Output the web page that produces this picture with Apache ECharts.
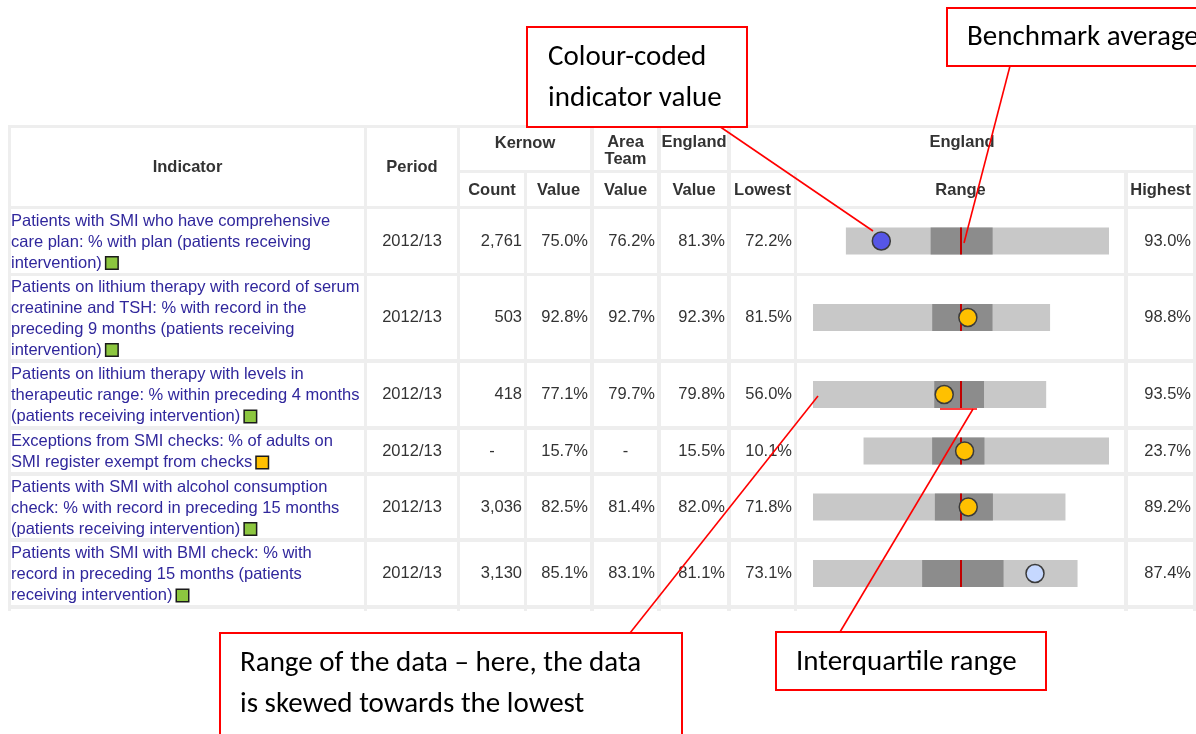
<!DOCTYPE html>
<html><head><meta charset="utf-8">
<script src="https://cdn.jsdelivr.net/npm/echarts@6/dist/echarts.min.js"></script>
<style>html,body{margin:0;padding:0;background:#fff}#c{width:1196px;height:734px}</style>
</head><body><div id="c"></div>
<script>
// ---------------- DATA ----------------
const indicators = [
  ['Patients with SMI who have comprehensive', 'care plan: % with plan (patients receiving', 'intervention)'],
  ['Patients on lithium therapy with record of serum', 'creatinine and TSH: % with record in the', 'preceding 9 months (patients receiving', 'intervention)'],
  ['Patients on lithium therapy with levels in', 'therapeutic range: % within preceding 4 months', '(patients receiving intervention)'],
  ['Exceptions from SMI checks: % of adults on', 'SMI register exempt from checks'],
  ['Patients with SMI with alcohol consumption', 'check: % with record in preceding 15 months', '(patients receiving intervention)'],
  ['Patients with SMI with BMI check: % with', 'record in preceding 15 months (patients', 'receiving intervention)']
];
const polarity = ['green', 'green', 'green', 'amber', 'green', 'green'];
const periods = ['2012/13', '2012/13', '2012/13', '2012/13', '2012/13', '2012/13'];
const kernowCount = [2761, 503, 418, null, 3036, 3130];
const kernowValue = [75.0, 92.8, 77.1, 15.7, 82.5, 85.1];
const areaTeamValue = [76.2, 92.7, 79.7, null, 81.4, 83.1];
const englandValue = [81.3, 92.3, 79.8, 15.5, 82.0, 81.1];
const englandLowest = [72.2, 81.5, 56.0, 10.1, 71.8, 73.1];
const englandQ1 = [78.9, 90.2, 75.5, 13.9, 80.2, 79.0];
const englandQ3 = [83.8, 94.6, 83.5, 16.8, 84.2, 83.4];
const englandHighest = [93.0, 98.8, 93.5, 23.7, 89.2, 87.4];
const significance = ['worse', 'similar', 'similar', 'similar', 'similar', 'better'];

// ---------------- STYLE / LAYOUT ----------------
const sigColor = { worse: '#5656e6', similar: '#ffc000', better: '#c6d8ff' };
const polColor = { green: '#8cc63f', amber: '#ffc000' };
const FONT = '"Liberation Sans", Arial, sans-serif';
const FS = 16.5;
const NOTE_FONT = 'Carlito, Lato, "Open Sans", sans-serif';
const NOTE_FS = 29;
const cols = [
  { x: 11, w: 353 }, { x: 367, w: 90 }, { x: 460, w: 64 }, { x: 527, w: 63 },
  { x: 594, w: 63 }, { x: 661, w: 66 }, { x: 731, w: 63 }, { x: 797, w: 327 }, { x: 1128, w: 65 }
];
const rows = [
  { y: 209, h: 64 }, { y: 276, h: 83 }, { y: 363, h: 63 },
  { y: 430, h: 42 }, { y: 476, h: 62 }, { y: 542, h: 63 }
];
const BAR_H = 27;

const fmtPct = v => v == null ? '-' : v.toFixed(1) + '%';
const fmtCount = v => v == null ? '-' : v.toLocaleString('en-GB');

const g = [];
// table background (border-spacing colour)
g.push({ type: 'rect', shape: { x: 8, y: 125, width: 1188, height: 486 }, style: { fill: '#eeeeee' }, z: 0 });
function cell(x, y, w, h) {
  g.push({ type: 'rect', shape: { x, y, width: w, height: h }, style: { fill: '#fff' }, z: 1 });
}
function txt(text, x, y, opt) {
  g.push({ type: 'text', z: 3, style: Object.assign({
    text, x, y, fill: '#333', fontSize: FS, fontFamily: FONT, align: 'center', verticalAlign: 'middle'
  }, opt || {}) });
}
// header cells
cell(cols[0].x, 128, cols[0].w, 78);
cell(cols[1].x, 128, cols[1].w, 78);
cell(cols[2].x, 128, cols[3].x + cols[3].w - cols[2].x, 42);
cell(cols[4].x, 128, cols[4].w, 42);
cell(cols[5].x, 128, cols[5].w, 42);
cell(cols[6].x, 128, cols[8].x + cols[8].w - cols[6].x, 42);
for (let i = 2; i < 9; i++) cell(cols[i].x, 173, cols[i].w, 33);
const hb = { fontWeight: 'bold' };
txt('Indicator', cols[0].x + cols[0].w / 2, 167, hb);
txt('Period', cols[1].x + cols[1].w / 2, 167, hb);
txt('Kernow', (cols[2].x + cols[3].x + cols[3].w) / 2, 143, hb);
txt('Area\nTeam', cols[4].x + cols[4].w / 2, 151, Object.assign({ lineHeight: 17 }, hb));
txt('England', cols[5].x + cols[5].w / 2, 142, hb);
txt('England', (cols[6].x + cols[8].x + cols[8].w) / 2, 142, hb);
const sub = ['Count', 'Value', 'Value', 'Value', 'Lowest', 'Range', 'Highest'];
sub.forEach((s, k) => txt(s, cols[k + 2].x + cols[k + 2].w / 2, 190, hb));

// body rows
rows.forEach((r, i) => {
  cols.forEach(c => cell(c.x, r.y, c.w, r.h));
  const cy = r.y + r.h / 2;
  const lines = indicators[i].slice();
  lines[lines.length - 1] = lines[lines.length - 1] + ' {sq|}';
  txt(lines.join('\n'), cols[0].x, cy + 1, {
    align: 'left', fill: '#30279c', lineHeight: 21,
    rich: { sq: { width: 11, height: 11, backgroundColor: polColor[polarity[i]], borderColor: '#1a1a1a', borderWidth: 1.5 } }
  });
  txt(periods[i], cols[1].x + cols[1].w / 2, cy);
  const rightCol = (k, v, isCount) => {
    const s = isCount ? fmtCount(v) : fmtPct(v);
    if (v == null) txt(s, cols[k].x + cols[k].w / 2, cy);
    else txt(s, cols[k].x + cols[k].w - 2, cy, { align: 'right' });
  };
  rightCol(2, kernowCount[i], true);
  rightCol(3, kernowValue[i]);
  rightCol(4, areaTeamValue[i]);
  rightCol(5, englandValue[i]);
  rightCol(6, englandLowest[i]);
  rightCol(8, englandHighest[i]);
});
// partial next row at the bottom edge
cols.forEach(c => cell(c.x, 609, c.w, 4));

// ---------------- SPINE CHARTS (one grid per row) ----------------
const grids = [], xAxes = [], yAxes = [], series = [];
rows.forEach((r, i) => {
  const avg = englandValue[i];
  const D = Math.max(avg - englandLowest[i], englandHighest[i] - avg);
  grids.push({ left: 813, width: 296, top: r.y + r.h / 2 - BAR_H / 2, height: BAR_H, containLabel: false });
  xAxes.push({ gridIndex: i, type: 'value', min: avg - D, max: avg + D, show: false });
  yAxes.push({ gridIndex: i, type: 'category', data: ['r'], show: false });
  series.push({
    type: 'custom', xAxisIndex: i, yAxisIndex: i, z: 5, silent: true,
    dimensions: ['cat', 'low', 'q1', 'q3', 'high', 'avg', 'val'],
    encode: { y: 0, x: [1, 2, 3, 4, 5, 6] },
    data: [[0, englandLowest[i], englandQ1[i], englandQ3[i], englandHighest[i], avg, kernowValue[i]]],
    renderItem: (params, api) => {
      const cy = api.coord([api.value(5), 0])[1];
      const h = api.size([0, 1])[1];
      const x = k => api.coord([api.value(k), 0])[0];
      return { type: 'group', children: [
        { type: 'rect', shape: { x: x(1), y: cy - h / 2, width: x(4) - x(1), height: h }, style: { fill: '#c8c8c8' } },
        { type: 'rect', shape: { x: x(2), y: cy - h / 2, width: x(3) - x(2), height: h }, style: { fill: '#8c8c8c' } },
        { type: 'line', shape: { x1: x(5), y1: cy - h / 2, x2: x(5), y2: cy + h / 2 }, style: { stroke: '#c00000', lineWidth: 2 } },
        { type: 'circle', shape: { cx: x(6), cy: cy, r: 9 }, style: { fill: sigColor[significance[i]], stroke: '#3a3a3a', lineWidth: 1.5 } }
      ] };
    }
  });
});

// ---------------- ANNOTATIONS ----------------
const RED = '#ff0000';
function box(x, y, w, h) {
  g.push({ type: 'rect', z: 20, shape: { x, y, width: w, height: h }, style: { fill: '#fff', stroke: RED, lineWidth: 2 } });
}
function note(text, x, y, lh) {
  g.push({ type: 'text', z: 21, style: { text, x, y, fill: '#000', fontSize: NOTE_FS, fontFamily: NOTE_FONT, align: 'left', verticalAlign: 'middle', lineHeight: lh || 41 } });
}
function seg(x1, y1, x2, y2) {
  g.push({ type: 'line', z: 19, shape: { x1, y1, x2, y2 }, style: { stroke: RED, lineWidth: 1.6 } });
}
box(527, 27, 220, 100); note('Colour-coded\nindicator value', 548, 78);
box(947, 8, 270, 58); note('Benchmark average', 967, 38);
box(220, 633, 462, 130); note('Range of the data \u2013 here, the data\nis skewed towards the lowest', 240, 684);
box(776, 632, 270, 58); note('Interquartile range', 796, 663);
seg(719, 126, 873, 231);
seg(1010, 66, 964, 243);
seg(630, 633, 818, 396);
seg(840, 632, 973, 409);
seg(940, 409, 977, 409);

const chart = echarts.init(document.getElementById('c'), null, { renderer: 'canvas' });
chart.setOption({
  animation: false,
  backgroundColor: '#fff',
  grid: grids, xAxis: xAxes, yAxis: yAxes, series,
  graphic: { elements: g }
});
</script>
</body></html>
